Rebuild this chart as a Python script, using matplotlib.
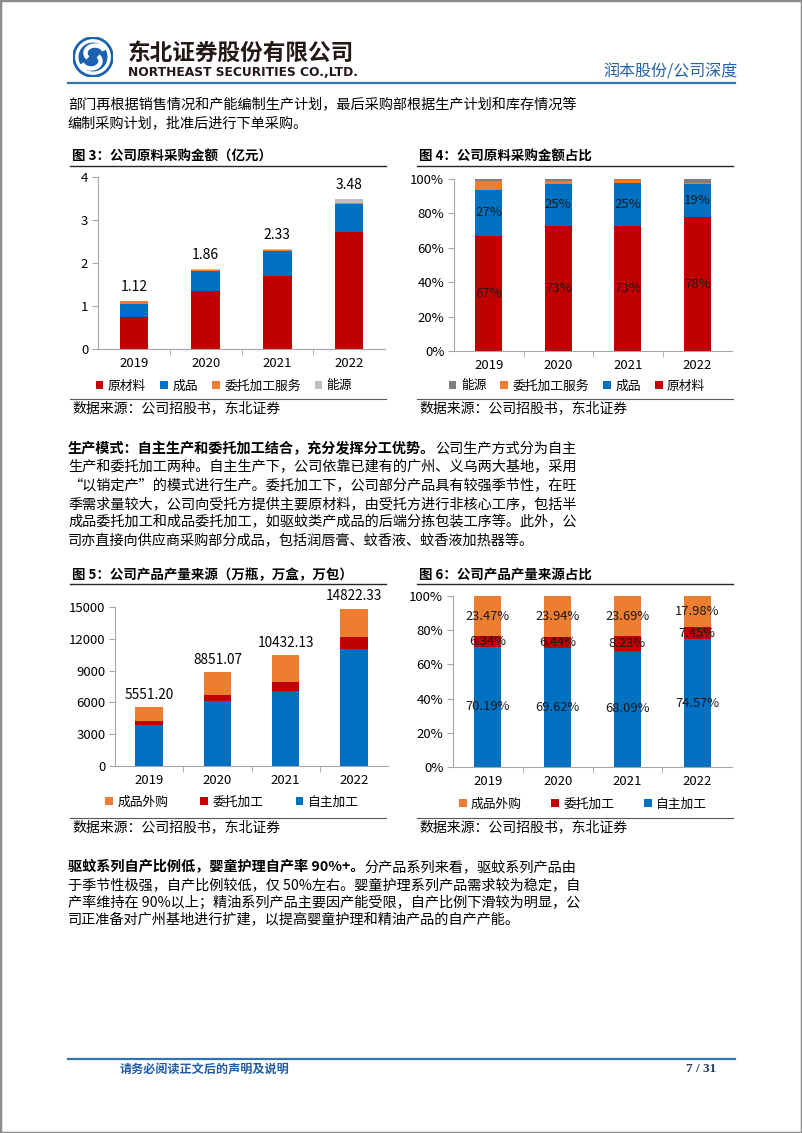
import matplotlib
matplotlib.use('Agg')
import matplotlib.pyplot as plt
import numpy as np
from matplotlib.patches import Circle, Wedge, Arc, Rectangle
from matplotlib.lines import Line2D
from matplotlib.ticker import PercentFormatter

plt.rcParams['font.family'] = ['Noto Sans CJK SC', 'DejaVu Sans']

# ---- data ----
years = ['2019', '2020', '2021', '2022']

# fig 3 / 4: purchase amount (亿元)
raw_material = [0.75, 1.35, 1.70, 2.71]
finished_goods = [0.30, 0.46, 0.58, 0.66]
oem_service = [0.056, 0.03, 0.03, 0.035]
energy = [0.014, 0.02, 0.02, 0.075]
purchase_total = [1.12, 1.86, 2.33, 3.48]

# fig 5 / 6: output by source
output_total = [5551.20, 8851.07, 10432.13, 14822.33]
self_pct = [70.19, 69.62, 68.09, 74.57]
oem_pct = [6.34, 6.44, 8.23, 7.45]
bought_pct = [23.47, 23.94, 23.69, 17.98]

RED, BLUE, ORANGE = '#C00000', '#0070C0', '#ED7D31'
GRAY_L, GRAY_D = '#BFBFBF', '#7F7F7F'
AXC = '#A6A6A6'

W, H = 802, 1133
fig = plt.figure(figsize=(W / 100, H / 100), dpi=100)
renderer = fig.canvas.get_renderer()


def fx(x):
    return x / W


def fy(y):
    return 1 - y / H


def ax_at(x0, y0, x1, y1):
    return fig.add_axes([x0 / W, 1 - y1 / H, (x1 - x0) / W, (y1 - y0) / H])


def hline(x0, x1, y, color, lw):
    fig.add_artist(Line2D([fx(x0), fx(x1)], [fy(y), fy(y)], color=color, lw=lw))


def fit_width(t, target):
    w = t.get_window_extent(renderer).width
    t.set_fontsize(t.get_fontsize() * target / w)


# ---- page frame / header ----
fig.add_artist(Rectangle((0, 0), 1, 1, transform=fig.transFigure, fill=False,
                         ec='#8C8C8C', lw=2.5))

lg = ax_at(73, 37, 113, 77)
lg.set_xlim(-1, 1)
lg.set_ylim(-1, 1)
lg.set_aspect('equal')
lg.axis('off')
lg.add_patch(Circle((0, 0), 1, color='#1A62B0'))
lg.add_patch(Wedge((0, 0), 0.86, 0, 360, width=0.1, color='white'))
lg.add_patch(Arc((0.1, 0.2), 0.95, 0.75, theta1=15, theta2=215, lw=3.2, color='white'))
lg.add_patch(Arc((-0.1, -0.2), 0.95, 0.75, theta1=195, theta2=395, lw=3.2, color='white'))

t = fig.text(fx(128), fy(53), '东北证券股份有限公司', fontsize=16, fontweight='heavy',
             color='#231815', va='center')
fit_width(t, 227)
t = fig.text(fx(128), fy(73), 'NORTHEAST SECURITIES CO.,LTD.', fontsize=9,
             fontweight='bold', color='#231815', va='center', family='DejaVu Sans')
fit_width(t, 228)
t = fig.text(fx(738), fy(72), '润本股份/公司深度', fontsize=11, color='#2161AD',
             va='center', ha='right')
fit_width(t, 134)
hline(68, 735, 83, '#2E74B5', 1.6)

FS = 10.2


def para_line(y, s, bold=None):
    x = 68
    if bold:
        tb = fig.text(fx(x), fy(y), bold, fontsize=FS, fontweight='bold', va='center')
        x = tb.get_window_extent(renderer).x1
    fig.text(fx(x), fy(y), s, fontsize=FS, va='center')


para_line(105, '部门再根据销售情况和产能编制生产计划，最后采购部根据生产计划和库存情况等')
para_line(123, '编制采购计划，批准后进行下单采购。')

p2 = ['公司生产方式分为自主',
      '生产和委托加工两种。自主生产下，公司依靠已建有的广州、义乌两大基地，采用',
      '“以销定产”的模式进行生产。委托加工下，公司部分产品具有较强季节性，在旺',
      '季需求量较大，公司向受托方提供主要原材料，由受托方进行非核心工序，包括半',
      '成品委托加工和成品委托加工，如驱蚊类产成品的后端分拣包装工序等。此外，公',
      '司亦直接向供应商采购部分成品，包括润唇膏、蚊香液、蚊香液加热器等。']
for i, s in enumerate(p2):
    para_line(449 + 18.4 * i, s, '生产模式：自主生产和委托加工结合，充分发挥分工优势。' if i == 0 else None)

p3 = ['分产品系列来看，驱蚊系列产品由',
      '于季节性极强，自产比例较低，仅 50%左右。婴童护理系列产品需求较为稳定，自',
      '产率维持在 90%以上；精油系列产品主要因产能受限，自产比例下滑较为明显，公',
      '司正准备对广州基地进行扩建，以提高婴童护理和精油产品的自产产能。']
for i, s in enumerate(p3):
    para_line(867 + 17.8 * i, s, '驱蚊系列自产比例低，婴童护理自产率 90%+。' if i == 0 else None)

# footer
hline(68, 735, 1059, '#2E74B5', 1.6)
t = fig.text(fx(120), fy(1069), '请务必阅读正文后的声明及说明', fontsize=8.6,
             fontweight='bold', color='#1F5BA6', va='center')
fit_width(t, 168)
fig.text(fx(716), fy(1069), '7 / 31', fontsize=9.5, fontweight='bold', color='#1F3864',
         va='center', ha='right', family='Liberation Serif')


# ---- chart helpers ----
def chart_frame(x0, x1, y_title, y_src, title):
    fig.text(fx(x0 + 2), fy(y_title), title, fontsize=9.7, fontweight='bold', va='center')
    hline(x0, x1, y_title + 9, '#262626', 1.0)
    hline(x0, x1, y_src, '#595959', 0.8)
    fig.text(fx(x0 + 2), fy(y_src + 9), '数据来源：公司招股书，东北证券', fontsize=10, va='center')


def bar_axes(box):
    ax = ax_at(*box)
    ax.set_xlim(-0.5, 3.5)
    ax.spines[['top', 'right']].set_visible(False)
    for s in ('left', 'bottom'):
        ax.spines[s].set_color(AXC)
        ax.spines[s].set_linewidth(0.8)
    ax.set_xticks(range(4), years)
    ax.set_xticks([0.5, 1.5, 2.5], minor=True)
    ax.tick_params(axis='x', which='major', length=0, pad=6, labelsize=9.5)
    ax.tick_params(axis='x', which='minor', length=4, color=AXC)
    ax.tick_params(axis='y', length=4, color=AXC, labelsize=9.5, pad=3)
    ax.patch.set_alpha(0)
    return ax


def stack(ax, series, colors, width):
    bottom = np.zeros(4)
    for vals, c in zip(series, colors):
        vals = np.asarray(vals, dtype=float)
        ax.bar(range(4), vals, width, bottom=bottom, color=c, zorder=2)
        bottom += vals
    return bottom


def legend(cx, cy, labels, colors, colsp):
    hs = [Rectangle((0, 0), 1, 1, fc=c) for c in colors]
    fig.legend(hs, labels, loc='center', bbox_to_anchor=(fx(cx), fy(cy)), ncol=len(hs),
               frameon=False, fontsize=9.2, handlelength=0.6, handleheight=0.6,
               handletextpad=0.35, columnspacing=colsp, borderaxespad=0, borderpad=0)


# ---- fig 3 ----
chart_frame(70, 386, 157, 399, '图 3：公司原料采购金额（亿元）')
ax3 = bar_axes((98, 177, 385, 349))
stack(ax3, [raw_material, finished_goods, oem_service, energy], [RED, BLUE, ORANGE, GRAY_L], 0.4)
ax3.set_ylim(0, 4)
ax3.set_yticks(range(5))
for i, v in enumerate(purchase_total):
    ax3.annotate(f'{v:.2f}', (i, v), xytext=(0, 5), textcoords='offset points',
                 ha='center', va='bottom', fontsize=10)
legend(224, 386, ['原材料', '成品', '委托加工服务', '能源'], [RED, BLUE, ORANGE, GRAY_L], 1.1)

# ---- fig 4 ----
chart_frame(417, 733, 157, 399, '图 4：公司原料采购金额占比')
ax4 = bar_axes((454, 179, 732, 351))
tot = np.array(raw_material) + np.array(finished_goods) + np.array(oem_service) + np.array(energy)
sh_raw = np.array(raw_material) / tot
sh_fin = np.array(finished_goods) / tot
stack(ax4, [sh_raw, sh_fin, np.array(oem_service) / tot, np.array(energy) / tot],
      [RED, BLUE, ORANGE, GRAY_D], 0.39)
ax4.set_ylim(0, 1)
ax4.set_yticks(np.linspace(0, 1, 6))
ax4.yaxis.set_major_formatter(PercentFormatter(1, decimals=0))
for i in range(4):
    ax4.text(i, sh_raw[i] / 2, f'{sh_raw[i]:.0%}', ha='center', va='center', fontsize=9.5, color='#1a1a1a')
    ax4.text(i, sh_raw[i] + sh_fin[i] / 2, f'{sh_fin[i]:.0%}', ha='center', va='center',
             fontsize=9.5, color='#1a1a1a')
legend(577, 386, ['能源', '委托加工服务', '成品', '原材料'], [GRAY_D, ORANGE, BLUE, RED], 1.1)

# ---- fig 5 ----
chart_frame(70, 386, 575, 818, '图 5：公司产品产量来源（万瓶，万盒，万包）')
ax5 = bar_axes((115, 607, 388, 766))
tot5 = np.array(output_total)
stack(ax5, [tot5 * np.array(self_pct) / 100, tot5 * np.array(oem_pct) / 100,
            tot5 * np.array(bought_pct) / 100], [BLUE, RED, ORANGE], 0.4)
ax5.set_ylim(0, 15000)
ax5.set_yticks(range(0, 15001, 3000))
for i, v in enumerate(output_total):
    ax5.annotate(f'{v:.2f}', (i, v), xytext=(0, 4), textcoords='offset points',
                 ha='center', va='bottom', fontsize=9.8, annotation_clip=False)
legend(232, 802, ['成品外购', '委托加工', '自主加工'], [ORANGE, RED, BLUE], 2.5)

# ---- fig 6 ----
chart_frame(417, 733, 575, 818, '图 6：公司产品产量来源占比')
ax6 = bar_axes((453, 596, 732, 767))
stack(ax6, [np.array(self_pct) / 100, np.array(oem_pct) / 100, np.array(bought_pct) / 100],
      [BLUE, RED, ORANGE], 0.39)
ax6.set_ylim(0, 1)
ax6.set_yticks(np.linspace(0, 1, 6))
ax6.yaxis.set_major_formatter(PercentFormatter(1, decimals=0))
for i in range(4):
    b = 0
    for v in (self_pct[i], oem_pct[i], bought_pct[i]):
        ax6.text(i, (b + v / 2) / 100, f'{v:.2f}%', ha='center', va='center', fontsize=9.3,
                 color='#1a1a1a')
        b += v
legend(583, 804, ['成品外购', '委托加工', '自主加工'], [ORANGE, RED, BLUE], 2.3)

fig.savefig('out.png', dpi=100)
